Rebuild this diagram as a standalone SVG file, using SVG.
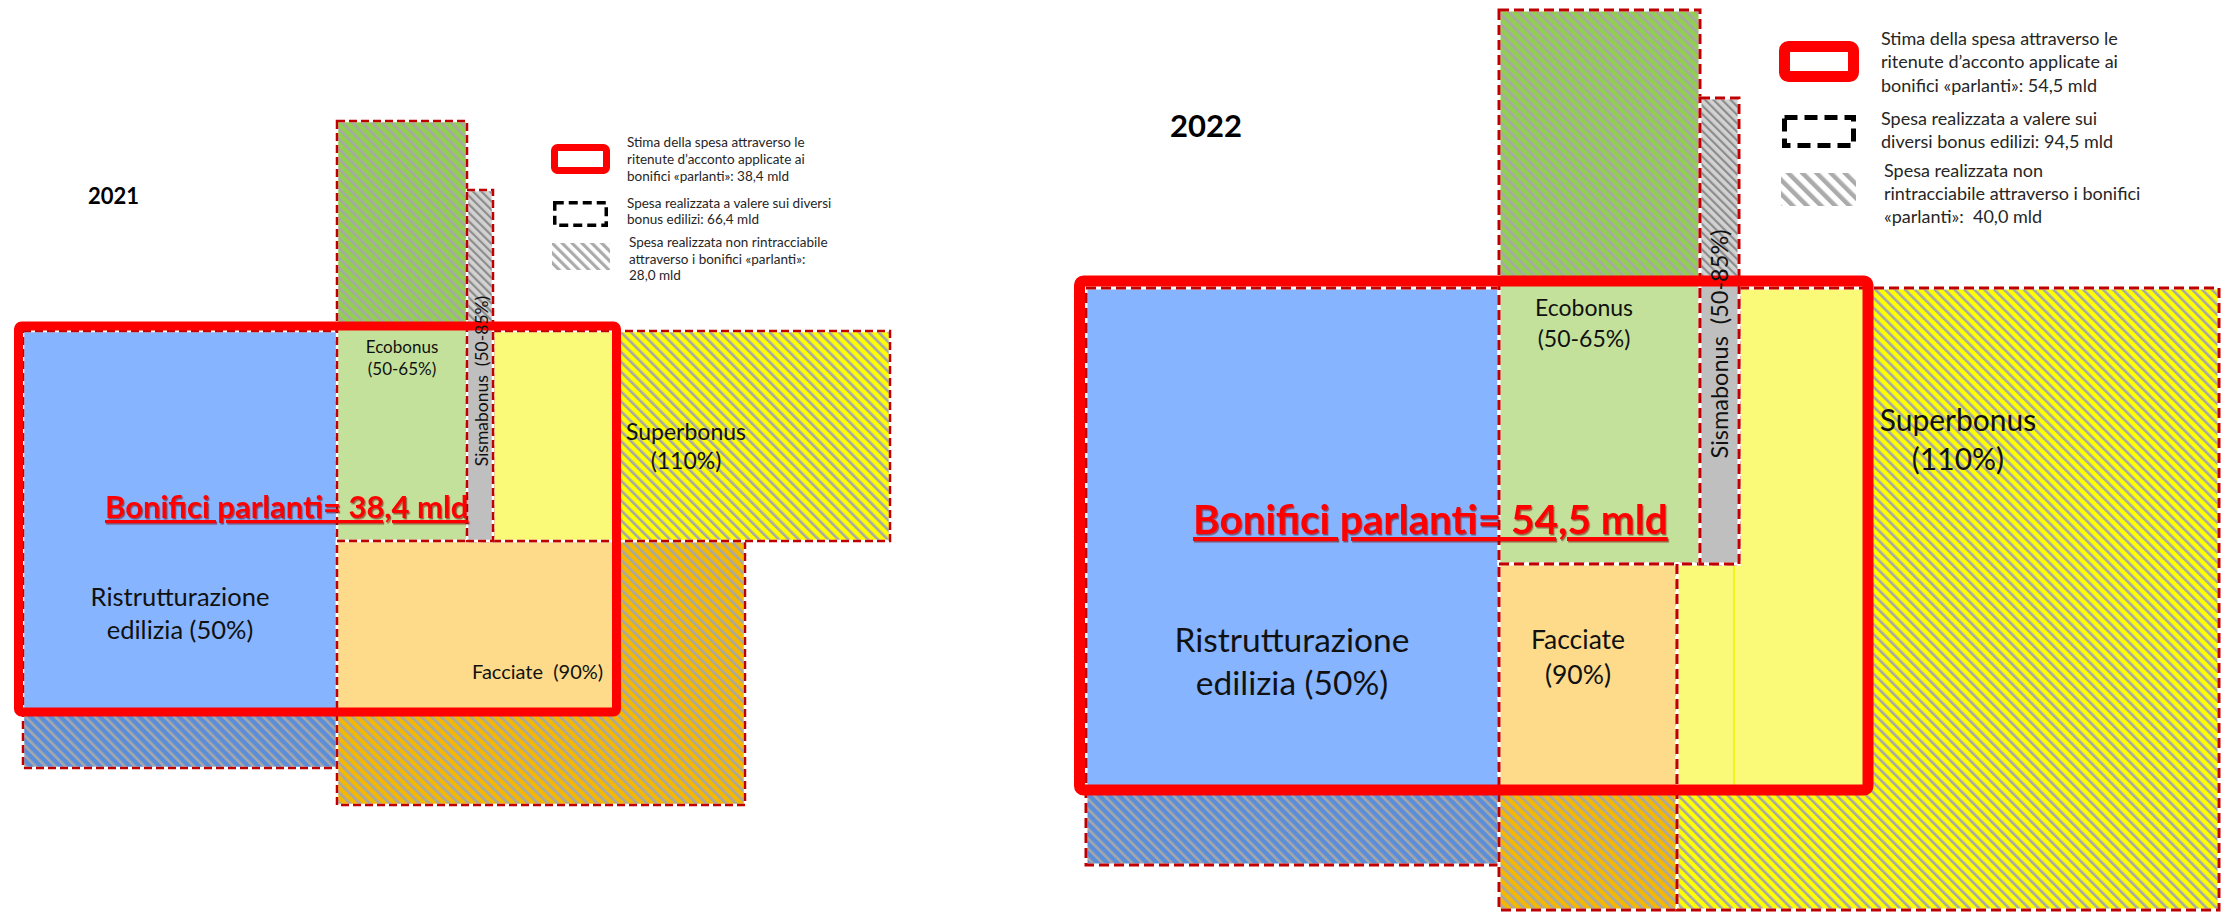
<svg xmlns="http://www.w3.org/2000/svg" width="2224" height="913" viewBox="0 0 2224 913">
<defs>
<style>
.lbl{font-family:Lato,"Liberation Sans",sans-serif;fill:#111}
.leg{font-family:Lato,"Liberation Sans",sans-serif;fill:#262626}
.yr{font-family:Lato,"Liberation Sans",sans-serif;font-weight:700;fill:#000}
.big{font-family:Lato,"Liberation Sans",sans-serif;font-weight:700;fill:#FF0000;text-decoration:underline;filter:url(#sh)}
.olw{fill:none;stroke:#fff;stroke-width:2.5}
.ol{fill:none;stroke:#C00000;stroke-width:2.5;stroke-dasharray:8 4}
.olw2{fill:none;stroke:#fff;stroke-width:3}
.ol2{fill:none;stroke:#C00000;stroke-width:3;stroke-dasharray:10 5}
.rb{fill:none;stroke:#FF0000}
</style>
<filter id="sh" x="-5%" y="-20%" width="110%" height="150%"><feDropShadow dx="1.2" dy="1.5" stdDeviation="0.7" flood-color="#700000" flood-opacity="0.55"/></filter>
<pattern id="hBlue" patternUnits="userSpaceOnUse" width="7" height="7" patternTransform="rotate(-45)"><rect width="7" height="7" fill="#5A8DDA"/><rect width="2.6" height="7" fill="#A7A7A7"/></pattern>
<pattern id="hGreen" patternUnits="userSpaceOnUse" width="7" height="7" patternTransform="rotate(-45)"><rect width="7" height="7" fill="#92CF50"/><rect width="2.6" height="7" fill="#A7A7A7"/></pattern>
<pattern id="hGray" patternUnits="userSpaceOnUse" width="6" height="6" patternTransform="rotate(-45)"><rect width="6" height="6" fill="#D2D2D2"/><rect width="2.2" height="6" fill="#8C8C8C"/></pattern>
<pattern id="hYellow" patternUnits="userSpaceOnUse" width="7" height="7" patternTransform="rotate(-45)"><rect width="7" height="7" fill="#FFFF00"/><rect width="2.6" height="7" fill="#A7A7A7"/></pattern>
<pattern id="hOrange" patternUnits="userSpaceOnUse" width="7" height="7" patternTransform="rotate(-45)"><rect width="7" height="7" fill="#F5B800"/><rect width="2.6" height="7" fill="#A7A7A7"/></pattern>
<pattern id="hLeg1" patternUnits="userSpaceOnUse" width="7" height="7" patternTransform="rotate(-45)"><rect width="7" height="7" fill="#FFFFFF"/><rect width="3.2" height="7" fill="#ABABAB"/></pattern>
<pattern id="hLeg2" patternUnits="userSpaceOnUse" width="10" height="10" patternTransform="rotate(-45)"><rect width="10" height="10" fill="#FFFFFF"/><rect width="4.5" height="10" fill="#ABABAB"/></pattern>
<clipPath id="c21"><rect x="18.5" y="326" width="598" height="386"/></clipPath>
<clipPath id="c22"><rect x="1079.5" y="281" width="788.5" height="509"/></clipPath>
</defs>
<rect width="2224" height="913" fill="#FFFFFF"/>

<!-- ===== 2021 ===== -->
<g id="y2021-ristrutturazione">
<rect x="23" y="331" width="314" height="437" fill="url(#hBlue)"/>
<rect x="23" y="331" width="314" height="437" fill="#87B4FF" clip-path="url(#c21)"/>
<rect x="23" y="331" width="314" height="437" class="olw"/><rect x="23" y="331" width="314" height="437" class="ol"/>
</g>
<g id="y2021-ecobonus">
<rect x="337" y="121" width="130" height="420" fill="url(#hGreen)"/>
<rect x="337" y="121" width="130" height="420" fill="#C3E19B" clip-path="url(#c21)"/>
<rect x="337" y="121" width="130" height="420" class="olw"/><rect x="337" y="121" width="130" height="420" class="ol"/>
</g>
<g id="y2021-facciate">
<rect x="337" y="541" width="408" height="264" fill="url(#hOrange)"/>
<rect x="337" y="541" width="408" height="264" fill="#FDDB8A" clip-path="url(#c21)"/>
<rect x="337" y="541" width="408" height="264" class="olw"/><rect x="337" y="541" width="408" height="264" class="ol"/>
</g>
<g id="y2021-superbonus">
<rect x="493" y="331" width="397" height="210" fill="url(#hYellow)"/>
<rect x="493" y="331" width="397" height="210" fill="#FAFA78" clip-path="url(#c21)"/>
<rect x="493" y="331" width="397" height="210" class="olw"/><rect x="493" y="331" width="397" height="210" class="ol"/>
</g>
<g id="y2021-sismabonus">
<rect x="467" y="190" width="26" height="351" fill="url(#hGray)"/>
<rect x="467" y="190" width="26" height="351" fill="#BFBFBF" clip-path="url(#c21)"/>
<rect x="467" y="190" width="26" height="351" class="olw"/><rect x="467" y="190" width="26" height="351" class="ol"/>
</g>
<g id="y2021-bonifici-parlanti">
<rect x="18.5" y="326" width="598" height="386" rx="3" class="rb" stroke-width="9"/>
</g>
<g id="y2021-labels">
<text class="yr" x="88" y="204" font-size="22">2021</text>
<text class="lbl" x="402" y="353" font-size="17" text-anchor="middle">Ecobonus</text>
<text class="lbl" x="402" y="375" font-size="17" text-anchor="middle">(50-65%)</text>
<text class="lbl" x="481" y="381" font-size="17.5" text-anchor="middle" dominant-baseline="central" transform="rotate(-90 481 381)" xml:space="preserve">Sismabonus  (50-85%)</text>
<text class="lbl" x="686" y="440" font-size="23" text-anchor="middle">Superbonus</text>
<text class="lbl" x="686" y="469" font-size="23" text-anchor="middle">(110%)</text>
<text class="lbl" x="180" y="606" font-size="25.5" text-anchor="middle">Ristrutturazione</text>
<text class="lbl" x="180" y="639" font-size="25.5" text-anchor="middle">edilizia (50%)</text>
<text class="lbl" x="472" y="679" font-size="20" xml:space="preserve">Facciate  (90%)</text>
<text class="big" x="105" y="518" font-size="31">Bonifici parlanti= 38,4 mld</text>
</g>
<g id="y2021-legend">
<rect x="554.5" y="147.5" width="52" height="23" rx="3" fill="#fff" stroke="#FF0000" stroke-width="7"/>
<rect x="554.75" y="202.75" width="51.5" height="22.5" fill="none" stroke="#000" stroke-width="3.5" stroke-dasharray="9 5"/>
<rect x="552" y="243" width="58" height="27" fill="url(#hLeg1)"/>
<text class="leg" font-size="13.5"><tspan x="627" y="147">Stima della spesa attraverso le</tspan><tspan x="627" y="163.5">ritenute d’acconto applicate ai</tspan><tspan x="627" y="180.5">bonifici «parlanti»: 38,4 mld</tspan></text>
<text class="leg" font-size="13.5"><tspan x="627" y="207.5">Spesa realizzata a valere sui diversi</tspan><tspan x="627" y="224">bonus edilizi: 66,4 mld</tspan></text>
<text class="leg" font-size="13.5"><tspan x="629" y="246.5">Spesa realizzata non rintracciabile</tspan><tspan x="629" y="263.5">attraverso i bonifici «parlanti»:</tspan><tspan x="629" y="280">28,0 mld</tspan></text>
</g>

<!-- ===== 2022 ===== -->
<g id="y2022-ristrutturazione">
<rect x="1086" y="288" width="413" height="577" fill="url(#hBlue)"/>
<rect x="1086" y="288" width="413" height="577" fill="#87B4FF" clip-path="url(#c22)"/>
<rect x="1086" y="288" width="413" height="577" class="olw2"/><rect x="1086" y="288" width="413" height="577" class="ol2"/>
</g>
<g id="y2022-ecobonus">
<rect x="1499" y="10" width="201" height="554" fill="url(#hGreen)"/>
<rect x="1499" y="10" width="201" height="554" fill="#C3E19B" clip-path="url(#c22)"/>
<rect x="1499" y="10" width="201" height="554" class="olw2"/><rect x="1499" y="10" width="201" height="554" class="ol2"/>
</g>
<g id="y2022-facciate">
<rect x="1499" y="564" width="178" height="346" fill="url(#hOrange)"/>
<rect x="1499" y="564" width="178" height="346" fill="#FDDB8A" clip-path="url(#c22)"/>
<rect x="1499" y="564" width="178" height="346" class="olw2"/><rect x="1499" y="564" width="178" height="346" class="ol2"/>
</g>
<g id="y2022-superbonus">
<polygon points="1739,288 2219,288 2219,910 1677,910 1677,564 1739,564" fill="url(#hYellow)"/>
<polygon points="1739,288 2219,288 2219,910 1677,910 1677,564 1739,564" fill="#FAFA78" clip-path="url(#c22)"/>
<line x1="1734" y1="566" x2="1734" y2="785" stroke="#F2F000" stroke-width="1.5"/>
<polygon points="1739,288 2219,288 2219,910 1677,910 1677,564 1739,564" class="olw2"/><polygon points="1739,288 2219,288 2219,910 1677,910 1677,564 1739,564" class="ol2"/>
</g>
<g id="y2022-sismabonus">
<rect x="1700" y="98" width="39" height="466" fill="url(#hGray)"/>
<rect x="1700" y="98" width="39" height="466" fill="#BFBFBF" clip-path="url(#c22)"/>
<rect x="1700" y="98" width="39" height="466" class="olw2"/><rect x="1700" y="98" width="39" height="466" class="ol2"/>
</g>
<g id="y2022-bonifici-parlanti">
<rect x="1079.5" y="281" width="788.5" height="509" rx="4" class="rb" stroke-width="11"/>
</g>
<g id="y2022-labels">
<text class="yr" x="1170" y="137" font-size="31">2022</text>
<text class="lbl" x="1584" y="316" font-size="23" text-anchor="middle">Ecobonus</text>
<text class="lbl" x="1584" y="347" font-size="23" text-anchor="middle">(50-65%)</text>
<text class="lbl" x="1719" y="344" font-size="23.5" text-anchor="middle" dominant-baseline="central" transform="rotate(-90 1719 344)" xml:space="preserve">Sismabonus  (50-85%)</text>
<text class="lbl" x="1958" y="431" font-size="30" text-anchor="middle">Superbonus</text>
<text class="lbl" x="1958" y="470" font-size="30" text-anchor="middle">(110%)</text>
<text class="lbl" x="1292" y="652" font-size="33.5" text-anchor="middle">Ristrutturazione</text>
<text class="lbl" x="1292" y="695" font-size="33.5" text-anchor="middle">edilizia (50%)</text>
<text class="lbl" x="1578" y="649" font-size="26.5" text-anchor="middle">Facciate</text>
<text class="lbl" x="1578" y="684" font-size="26.5" text-anchor="middle">(90%)</text>
<text class="big" x="1193" y="534" font-size="40.5">Bonifici parlanti= 54,5 mld</text>
</g>
<g id="y2022-legend">
<rect x="1784.5" y="46.5" width="69" height="30" rx="4" fill="#fff" stroke="#FF0000" stroke-width="11"/>
<rect x="1784.5" y="117.5" width="69" height="28" fill="none" stroke="#000" stroke-width="5" stroke-dasharray="13 7"/>
<rect x="1781" y="173" width="75" height="33" fill="url(#hLeg2)"/>
<text class="leg" font-size="18"><tspan x="1881" y="45">Stima della spesa attraverso le</tspan><tspan x="1881" y="68">ritenute d’acconto applicate ai</tspan><tspan x="1881" y="92">bonifici «parlanti»: 54,5 mld</tspan></text>
<text class="leg" font-size="18"><tspan x="1881" y="125">Spesa realizzata a valere sui</tspan><tspan x="1881" y="148">diversi bonus edilizi: 94,5 mld</tspan></text>
<text class="leg" font-size="18" xml:space="preserve"><tspan x="1884" y="177">Spesa realizzata non</tspan><tspan x="1884" y="200">rintracciabile attraverso i bonifici</tspan><tspan x="1884" y="223">«parlanti»:  40,0 mld</tspan></text>
</g>
</svg>
